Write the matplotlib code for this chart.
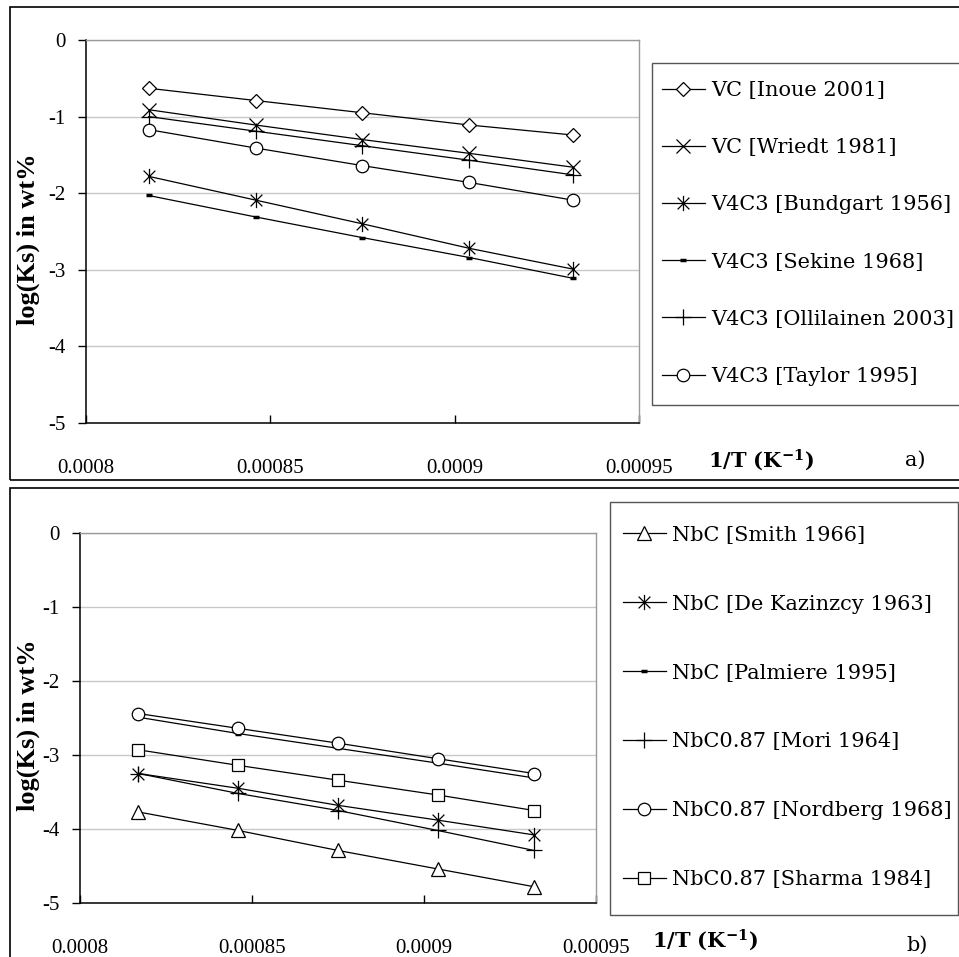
import matplotlib
matplotlib.use("Agg")
import matplotlib.pyplot as plt
from matplotlib.path import Path
from matplotlib.patches import Rectangle

# ---- data -------------------------------------------------------------
inv_T = [0.000817, 0.000846, 0.000875, 0.000904, 0.000932]

# a) vanadium carbides
vc_inoue = [-0.63, -0.79, -0.95, -1.11, -1.24]
vc_wriedt = [-0.91, -1.11, -1.30, -1.48, -1.66]
v4c3_bundgart = [-1.78, -2.09, -2.40, -2.72, -2.99]
v4c3_sekine = [-2.03, -2.31, -2.58, -2.84, -3.11]
v4c3_ollilainen = [-1.00, -1.19, -1.38, -1.57, -1.76]
v4c3_taylor = [-1.17, -1.41, -1.64, -1.86, -2.09]

# b) niobium carbides
nbc_smith = [-3.77, -4.02, -4.29, -4.54, -4.78]
nbc_dekazinzcy = [-3.25, -3.45, -3.68, -3.88, -4.08]
nbc_palmiere = [-2.49, -2.71, -2.91, -3.11, -3.31]
nbc_mori = [-3.25, -3.52, -3.75, -4.02, -4.29]
nbc_nordberg = [-2.44, -2.64, -2.84, -3.05, -3.25]
nbc_sharma = [-2.93, -3.14, -3.34, -3.54, -3.75]

labels_a = ["VC [Inoue 2001]", "VC [Wriedt 1981]", "V4C3 [Bundgart 1956]",
            "V4C3 [Sekine 1968]", "V4C3 [Ollilainen 2003]", "V4C3 [Taylor 1995]"]
labels_b = ["NbC [Smith 1966]", "NbC [De Kazinzcy 1963]", "NbC [Palmiere 1995]",
            "NbC0.87 [Mori 1964]", "NbC0.87 [Nordberg 1968]", "NbC0.87 [Sharma 1984]"]

# ---- styling ----------------------------------------------------------
plt.rcParams['font.family'] = 'Liberation Serif'
plt.rcParams['mathtext.fontset'] = 'dejavuserif'

W, H = 959, 957
star = Path([(-1, -1), (1, 1), (-1, 1), (1, -1), (0, -1.3), (0, 1.3)],
            [Path.MOVETO, Path.LINETO] * 3)

mk = {
    'diamond': dict(marker='D', markersize=7.5, mfc='white', mec='black', mew=0.9),
    'x': dict(marker='x', markersize=10, mec='black', mew=0.9),
    'star': dict(marker=star, markersize=11, mec='black', mew=0.9),
    'dash': dict(marker='_', markersize=5, mec='black', mew=2.5),
    'plus': dict(marker='+', markersize=12, mec='black', mew=0.9),
    'circle': dict(marker='o', markersize=9, mfc='white', mec='black', mew=0.9),
    'tri': dict(marker='^', markersize=10, mfc='white', mec='black', mew=0.9),
    'square': dict(marker='s', markersize=8.5, mfc='white', mec='black', mew=0.9),
}

fig = plt.figure(figsize=(W / 100, H / 100), dpi=100)
fig.patch.set_facecolor('white')


def px_rect(x0, y0, x1, y1):
    # pixel box (top-left origin) -> figure fraction [l, b, w, h]
    return [x0 / W, 1 - y1 / H, (x1 - x0) / W, (y1 - y0) / H]


def frame(x0, y0, x1, y1, color='black', lw=1.2):
    l, b, w, h = px_rect(x0, y0, x1, y1)
    fig.patches.append(Rectangle((l, b), w, h, transform=fig.transFigure,
                                 fill=False, ec=color, lw=lw, clip_on=False))


def setup_axes(ax, ylab_xy, xlab_xy):
    ax.set_xlim(0.0008, 0.00095)
    ax.set_ylim(-5, 0)
    ax.set_xticks([0.0008, 0.00085, 0.0009, 0.00095])
    ax.set_xticklabels(['0.0008', '0.00085', '0.0009', '0.00095'])
    ax.set_yticks([0, -1, -2, -3, -4, -5])
    ax.set_yticklabels(['0', '-1', '-2', '-3', '-4', '-5'])
    ax.grid(axis='y', color='#c8c8c8', lw=1.0)
    ax.set_axisbelow(True)
    for s in ['left', 'bottom']:
        ax.spines[s].set_color('black')
        ax.spines[s].set_linewidth(1.1)
    for s in ['top', 'right']:
        ax.spines[s].set_color('#9a9a9a')
        ax.spines[s].set_linewidth(1.0)
    ax.tick_params(axis='y', direction='out', length=6, width=1, pad=9,
                   labelsize=15)
    ax.tick_params(axis='x', direction='in', length=6, width=1, pad=26,
                   labelsize=15)
    ax.set_ylabel('log(Ks) in wt%', fontweight='bold', fontsize=19)
    ax.yaxis.label.set_va('center')
    ax.yaxis.set_label_coords(*ylab_xy)
    ax.set_xlabel(r'1/T (K$^{\mathbf{-1}}$)', family='DejaVu Serif',
                  fontweight='bold', fontsize=15)
    ax.xaxis.set_label_coords(*xlab_xy)
    ax.xaxis.label.set_va('center')


leg_font = dict(family='DejaVu Serif', size=15)

# ---- panel a ----------------------------------------------------------
frame(10, 7, 1000, 480)
axa = fig.add_axes(px_rect(86, 40, 639, 423))
series_a = [vc_inoue, vc_wriedt, v4c3_bundgart, v4c3_sekine, v4c3_ollilainen, v4c3_taylor]
styles_a = ['diamond', 'x', 'star', 'dash', 'plus', 'circle']
for ys, st, lab in zip(series_a, styles_a, labels_a):
    axa.plot(inv_T, ys, color='black', lw=0.9, label=lab, **mk[st])
setup_axes(axa, ((28 - 86) / 553, (423 - 239) / 383), (1.221, -0.097))

frame(652, 63, 1000, 405, color='#555555', lw=1.0)
axa.legend(loc='center left', bbox_to_anchor=(662 / W, 1 - 233.5 / H),
           bbox_transform=fig.transFigure, frameon=False, prop=leg_font,
           handlelength=2.05, handletextpad=0.3, labelspacing=1.83,
           borderpad=0, borderaxespad=0)
fig.text(915 / W, 1 - 460 / H, 'a)', family='DejaVu Serif', fontsize=15,
         ha='center', va='center')

# ---- panel b ----------------------------------------------------------
frame(10, 488, 1000, 1000)
axb = fig.add_axes(px_rect(80, 533, 596, 903))
series_b = [nbc_smith, nbc_dekazinzcy, nbc_palmiere, nbc_mori, nbc_nordberg, nbc_sharma]
styles_b = ['tri', 'star', 'dash', 'plus', 'circle', 'square']
for ys, st, lab in zip(series_b, styles_b, labels_b):
    axb.plot(inv_T, ys, color='black', lw=0.9, label=lab, **mk[st])
setup_axes(axb, ((28 - 80) / 516, (903 - 725) / 370), (1.211, -0.1))

frame(610, 502, 958, 915, color='#555555', lw=1.0)
axb.legend(loc='center left', bbox_to_anchor=(623 / W, 1 - 707.5 / H),
           bbox_transform=fig.transFigure, frameon=False, prop=leg_font,
           handlelength=2.05, handletextpad=0.3, labelspacing=2.4,
           borderpad=0, borderaxespad=0)
fig.text(917 / W, 1 - 945 / H, 'b)', family='DejaVu Serif', fontsize=15,
         ha='center', va='center')

fig.savefig('out.png', dpi=100)
